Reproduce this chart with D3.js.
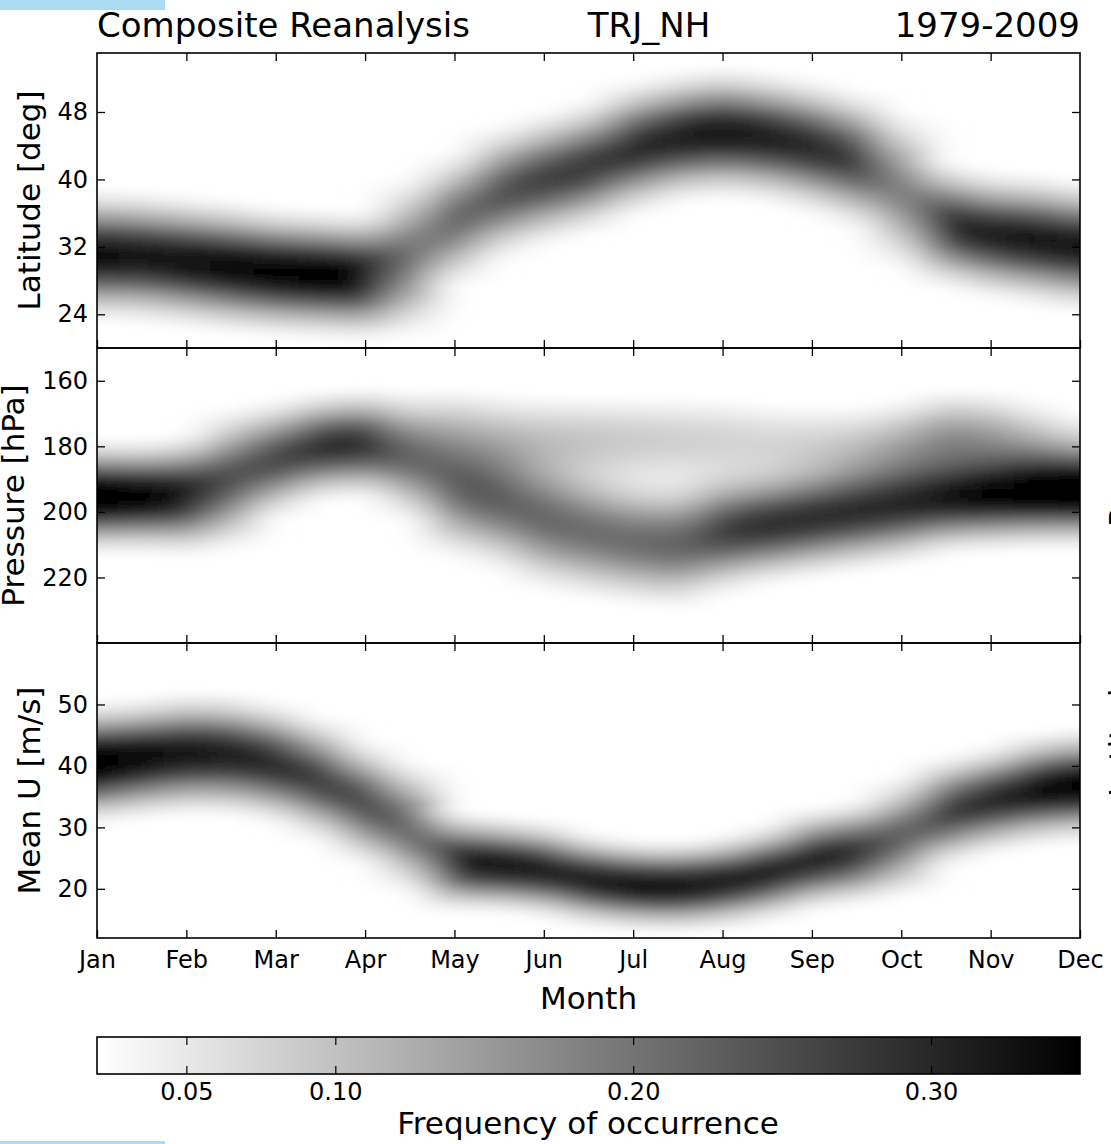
<!DOCTYPE html>
<html>
<head>
<meta charset="utf-8">
<script src="https://cdn.jsdelivr.net/npm/d3@7"></script>
<style>
  body { margin: 0; background: #fff; }
  text { font-family: "DejaVu Sans", sans-serif; fill: #000; }
</style>
</head>
<body>
<svg id="chart" width="1111" height="1144"></svg>
<script>
// x axis: months, data read every half month (0 = Jan ... 11 = Dec)
const monthNames = ["Jan", "Feb", "Mar", "Apr", "May", "Jun", "Jul", "Aug", "Sep", "Oct", "Nov", "Dec"];
const timeSteps = [0, 0.5, 1, 1.5, 2, 2.5, 3, 3.5, 4, 4.5, 5, 5.5, 6, 6.5, 7, 7.5, 8, 8.5, 9, 9.5, 10, 10.5, 11];

// latitude of the jet: ridge centre, peak frequency, spread
const latCenter = [31.0, 30.8, 30.2, 29.6, 29.0, 28.7, 28.4, 30.8, 35.2, 38.3, 40.0, 41.5, 43.7, 45.0, 45.6, 45.0, 43.9, 42.3, 38.7, 34.6, 33.4, 32.8, 32.0];
const latPeak   = [0.33, 0.32, 0.33, 0.34, 0.35, 0.35, 0.34, 0.21, 0.23, 0.25, 0.27, 0.28, 0.30, 0.31, 0.32, 0.31, 0.30, 0.28, 0.19, 0.30, 0.31, 0.32, 0.32];
const latSpread = [3.5, 3.5, 3.5, 3.5, 3.4, 3.4, 3.4, 4.5, 3.7, 3.7, 3.6, 3.6, 3.6, 3.5, 3.5, 3.5, 3.6, 3.7, 4.5, 3.4, 3.4, 3.5, 3.5];

// pressure: main ridge plus the faint upper ridge in summer / autumn
const presCenter = [195.4, 195.4, 195, 190, 184, 180, 179, 183, 192, 196, 202, 206, 209, 210, 206, 204, 202, 200, 198, 196, 195, 194.2, 194];
const presPeak   = [0.37, 0.35, 0.32, 0.25, 0.26, 0.29, 0.29, 0.22, 0.23, 0.23, 0.22, 0.21, 0.21, 0.22, 0.27, 0.29, 0.29, 0.29, 0.29, 0.31, 0.33, 0.35, 0.36];
const presSpread = [7.7, 7.7, 8.4, 10, 8.4, 7.7, 7.7, 9.5, 10.5, 10.5, 10.5, 10, 9.5, 9.5, 9, 8.4, 8.4, 8.4, 8.4, 7.7, 7.7, 7.7, 7.7];
const presCenter2 = [175, 175, 175, 175, 175, 175, 175, 175, 175, 177, 178, 178, 178, 178, 178, 179, 180, 181, 180, 178, 178, 180, 182];
const presPeak2   = [0, 0, 0, 0, 0, 0, 0, 0, 0.07, 0.08, 0.09, 0.09, 0.085, 0.08, 0.075, 0.07, 0.075, 0.09, 0.12, 0.16, 0.14, 0.10, 0.06];
const presSpread2 = [8, 8, 8, 8, 8, 8, 8, 8, 8, 8, 8, 8, 8, 8, 8, 8, 8, 8, 8, 8, 8, 8, 8];

// mean zonal wind at the jet core
const windCenter = [40.4, 41.2, 42.0, 41.8, 40.4, 37.7, 33.9, 30.0, 24.4, 23.9, 23.1, 21.4, 20.5, 20.3, 21.0, 22.5, 24.7, 25.8, 28.4, 32.5, 34.4, 36.1, 36.9];
const windPeak   = [0.37, 0.34, 0.32, 0.31, 0.30, 0.28, 0.27, 0.23, 0.31, 0.32, 0.31, 0.31, 0.32, 0.32, 0.31, 0.31, 0.31, 0.29, 0.23, 0.28, 0.30, 0.33, 0.35];
const windSpread = [4.4, 4.4, 4.5, 4.5, 4.5, 4.6, 4.6, 5.0, 3.8, 3.6, 3.6, 3.5, 3.4, 3.4, 3.5, 3.6, 3.8, 3.9, 4.6, 4.1, 4.0, 4.1, 4.1];

const latTicks = [24, 32, 40, 48];
const presTicks = [160, 180, 200, 220];
const windTicks = [20, 30, 40, 50];
const cbarTicks = [0.05, 0.10, 0.20, 0.30];

const svg = d3.select("#chart");
const left = 97, right = 1080, panelH = 295;
const panelTops = [53, 348, 643];

const x = d3.scaleLinear().domain([0, 11]).range([left, right]);
const color = d3.scaleLinear().domain([0.02, 0.35]).range(["#ffffff", "#000000"]).clamp(true);

const defs = svg.append("defs");
defs.append("filter")
    .attr("id", "smooth")
    .attr("x", "-5%").attr("y", "-5%")
    .attr("width", "110%").attr("height", "110%")
  .append("feGaussianBlur")
    .attr("stdDeviation", "20 3");

var panels = [
  { label: "Latitude [deg]", domain: [20, 55], flip: false, bin: 0.5, ticks: latTicks, labelX: 40,
    comps: [{ c: latCenter, p: latPeak, s: latSpread }] },
  { label: "Pressure [hPa]", domain: [150, 240], flip: true, bin: 1, ticks: presTicks, labelX: 24,
    comps: [{ c: presCenter, p: presPeak, s: presSpread }, { c: presCenter2, p: presPeak2, s: presSpread2 }] },
  { label: "Mean U [m/s]", domain: [12, 60], flip: false, bin: 0.5, ticks: windTicks, labelX: 40,
    comps: [{ c: windCenter, p: windPeak, s: windSpread }] }
];

panels.forEach((pn, k) => {
  const top = panelTops[k];
  const y = d3.scaleLinear().domain(pn.domain)
      .range(pn.flip ? [top, top + panelH] : [top + panelH, top]);

  // frequency cells: one column per half month, one row per bin
  const cells = [];
  timeSteps.forEach((t, i) => {
    const t0 = i === 0 ? -1 : t - 0.25;
    const t1 = i === timeSteps.length - 1 ? 12 : t + 0.25;
    d3.range(pn.domain[0] - 5, pn.domain[1] + 5, pn.bin).forEach(b => {
      const yc = b + pn.bin / 2;
      let v = 0;
      pn.comps.forEach(cp => {
        if (cp.p[i] > 0) v += cp.p[i] * Math.exp(-((yc - cp.c[i]) ** 2) / (2 * cp.s[i] ** 2));
      });
      if (v > 0.021) cells.push({ t0, t1, b0: b, b1: b + pn.bin, v });
    });
  });

  defs.append("clipPath").attr("id", "clip" + k)
    .append("rect").attr("x", left).attr("y", top).attr("width", right - left).attr("height", panelH);

  svg.append("g").attr("clip-path", `url(#clip${k})`)
    .append("g").attr("filter", "url(#smooth)")
    .selectAll("rect")
    .data(cells)
    .join("rect")
      .attr("x", d => x(d.t0))
      .attr("width", d => x(d.t1) - x(d.t0))
      .attr("y", d => Math.min(y(d.b0), y(d.b1)))
      .attr("height", d => Math.abs(y(d.b1) - y(d.b0)))
      .attr("fill", d => color(d.v))
      .attr("shape-rendering", "crispEdges");

  // inward ticks on all four sides
  const tickStyle = g => {
    g.select(".domain").remove();
    g.selectAll(".tick line").attr("stroke", "#000").attr("stroke-width", 1.3);
  };
  svg.append("g").attr("transform", `translate(${left},0)`)
    .call(d3.axisLeft(y).tickValues(pn.ticks).tickSize(-8).tickPadding(9))
    .call(tickStyle)
    .call(g => g.selectAll(".tick text").attr("font-size", 24).attr("font-family", "DejaVu Sans").attr("fill", "#000"));
  svg.append("g").attr("transform", `translate(${right},0)`)
    .call(d3.axisRight(y).tickValues(pn.ticks).tickSize(-8).tickFormat(""))
    .call(tickStyle);
  svg.append("g").attr("transform", `translate(0,${top})`)
    .call(d3.axisTop(x).tickValues(d3.range(1, 11)).tickSize(-8).tickFormat(""))
    .call(tickStyle);
  const bottomAxis = svg.append("g").attr("transform", `translate(0,${top + panelH})`)
    .call(d3.axisBottom(x).tickValues(d3.range(0, 12)).tickSize(-8).tickPadding(13)
      .tickFormat(k === 2 ? (d => monthNames[d]) : ""))
    .call(tickStyle);
  bottomAxis.selectAll(".tick text").attr("font-size", 24).attr("font-family", "DejaVu Sans").attr("fill", "#000");

  svg.append("rect")
    .attr("x", left).attr("y", top).attr("width", right - left).attr("height", panelH)
    .attr("fill", "none").attr("stroke", "#000").attr("stroke-width", 1.6);

  svg.append("text")
    .attr("transform", `translate(${pn.labelX},${top + panelH / 2}) rotate(-90)`)
    .attr("text-anchor", "middle")
    .attr("font-size", 31)
    .text(pn.label);
});

// titles
svg.append("text").attr("x", left).attr("y", 37).attr("font-size", 34).text("Composite Reanalysis");
svg.append("text").attr("x", 649).attr("y", 37).attr("font-size", 34).attr("text-anchor", "middle").text("TRJ_NH");
svg.append("text").attr("x", right).attr("y", 37).attr("font-size", 34).attr("text-anchor", "end").text("1979-2009");

svg.append("text").attr("x", (left + right) / 2).attr("y", 1009).attr("font-size", 31)
  .attr("text-anchor", "middle").text("Month");

// colour bar
const cb = d3.scaleLinear().domain([0.02, 0.35]).range([left, right]);
const cbTop = 1037, cbH = 37;
const grad = defs.append("linearGradient").attr("id", "cbgrad");
grad.selectAll("stop")
  .data(d3.range(0, 1.0001, 0.1))
  .join("stop")
    .attr("offset", d => d)
    .attr("stop-color", d => color(cb.invert(left + d * (right - left))));
svg.append("rect").attr("x", left).attr("y", cbTop).attr("width", right - left).attr("height", cbH)
  .attr("fill", "url(#cbgrad)").attr("stroke", "#000").attr("stroke-width", 1.6);
svg.append("g").attr("transform", `translate(0,${cbTop})`)
  .call(d3.axisTop(cb).tickValues(cbarTicks).tickSize(-8).tickFormat(""))
  .call(g => { g.select(".domain").remove(); g.selectAll(".tick line").attr("stroke", "#000").attr("stroke-width", 1.2); });
svg.append("g").attr("transform", `translate(0,${cbTop + cbH})`)
  .call(d3.axisBottom(cb).tickValues(cbarTicks).tickSize(-8).tickPadding(9).tickFormat(d3.format(".2f")))
  .call(g => {
    g.select(".domain").remove();
    g.selectAll(".tick line").attr("stroke", "#000").attr("stroke-width", 1.2);
    g.selectAll(".tick text").attr("font-size", 24).attr("font-family", "DejaVu Sans").attr("fill", "#000");
  });
svg.append("text").attr("x", 588).attr("y", 1134).attr("font-size", 31)
  .attr("text-anchor", "middle").text("Frequency of occurrence");

// labels of the neighbouring figure, cut by the right edge
svg.append("text").attr("transform", "translate(1131,527) rotate(-90)").attr("font-size", 31).text("Pressure");
svg.append("text").attr("transform", "translate(1131,797) rotate(-90)").attr("font-size", 31).text("Latitude");

// light blue strips at the page corners
svg.append("rect").attr("x", 0).attr("y", 0).attr("width", 165).attr("height", 10).attr("fill", "#a9dcf3");
svg.append("rect").attr("x", 0).attr("y", 1141).attr("width", 165).attr("height", 3).attr("fill", "#a9dcf3");
</script>
</body>
</html>
